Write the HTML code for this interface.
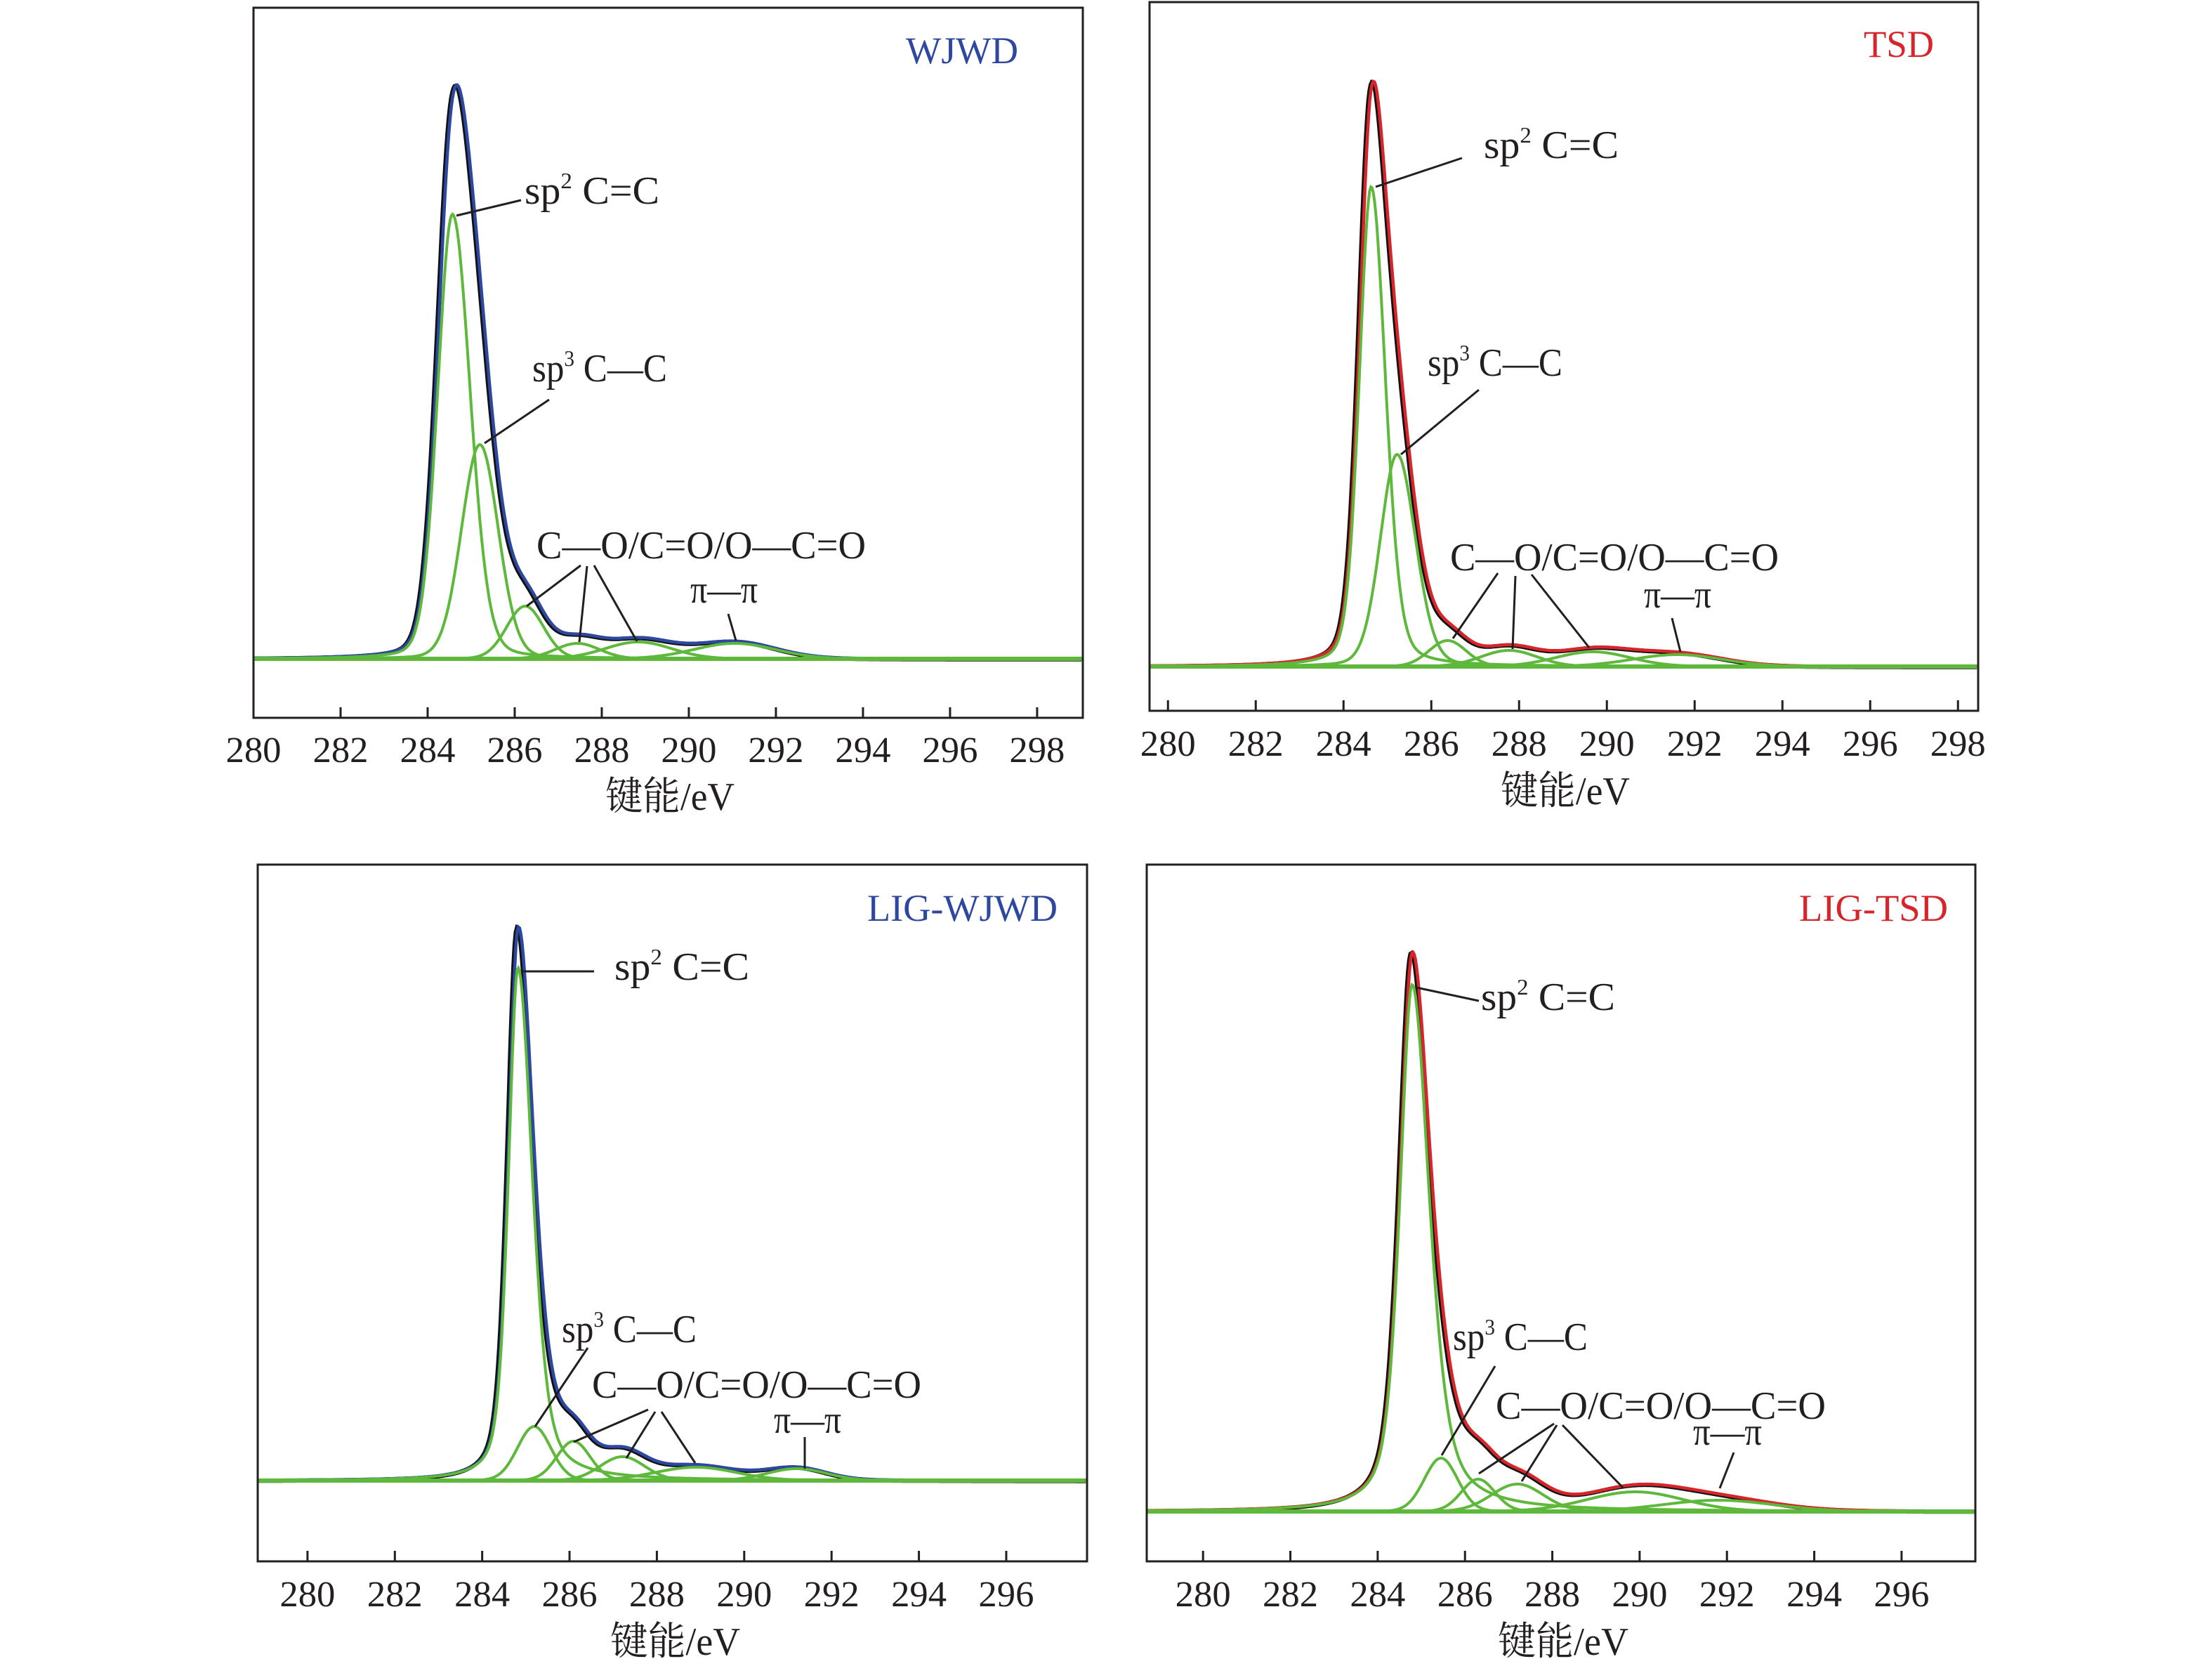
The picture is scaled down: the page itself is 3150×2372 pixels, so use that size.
<!DOCTYPE html>
<html><head><meta charset="utf-8">
<style>
html,body{margin:0;padding:0;background:#fff;}
svg{display:block;}
text{font-family:"Liberation Serif","Noto Serif CJK SC",serif;fill:#231f20;}
</style></head>
<body>
<svg id="fig" width="3150" height="2372" viewBox="0 0 3150 2372" xmlns="http://www.w3.org/2000/svg"></svg>
<script>
// ---- data (binding energies in eV, intensities in a.u.) ----
const tickValuesTop = [280,282,284,286,288,290,292,294,296,298];
const tickValuesBottom = [280,282,284,286,288,290,292,294,296];

const wjwdCenters = [284.57,285.20,286.24,287.44,288.84,291.05];
const wjwdHeights = [633,305,75,22,24,22];
const wjwdFwhm    = [0.80,1.00,1.00,1.20,1.80,2.20];
const wjwdEta     = [0.15,0.10,0.05,0.05,0.05,0.05];
const wjwdAsym    = [1.2,1.0,1.0,1.0,1.0,1.0];
const wjwdEnvPeak = 817;

const tsdCenters = [284.63,285.22,286.37,287.77,289.68,291.60];
const tsdHeights = [683,302,37,23,21,17];
const tsdFwhm    = [0.64,0.90,1.00,1.50,2.00,2.40];
const tsdEta     = [0.25,0.15,0.05,0.05,0.05,0.05];
const tsdAsym    = [1.2,1.1,1.0,1.0,1.0,1.0];
const tsdEnvPeak = 833;

const ligwCenters = [284.82,285.19,286.09,287.21,288.89,291.20];
const ligwHeights = [730,77,56,34,19,17];
const ligwFwhm    = [0.52,0.90,0.90,1.20,2.20,1.60];
const ligwEta     = [0.45,0.05,0.05,0.05,0.05,0.05];
const ligwAsym    = [1.5,1.0,1.0,1.0,1.0,1.0];
const ligwEnvPeak = 788;

const ligtCenters = [284.79,285.45,286.30,287.20,289.90,291.80];
const ligtHeights = [750,76,46,39,28,16];
const ligtFwhm    = [0.67,0.90,0.90,1.40,2.60,3.00];
const ligtEta     = [0.55,0.05,0.05,0.05,0.05,0.05];
const ligtAsym    = [1.4,1.0,1.0,1.0,1.0,1.0];
const ligtEnvPeak = 796;

// ---- layout ----
const NS = "http://www.w3.org/2000/svg";
const svg = document.getElementById('fig');
function mk(tag, attrs, parent){
  const e = document.createElementNS(NS, tag);
  for (const k in attrs) e.setAttribute(k, attrs[k]);
  (parent||svg).appendChild(e);
  return e;
}
const GREEN="#5db83b";

const panels = [
 {key:'wjwd', title:'WJWD', color:'#2e48a0', L:361,R:1542,T:11,B:1022,xmin:280,xmax:299.05,base:938,
  ticks:tickValuesTop, tickBase:1085, axis:{x:862,w:184,y:1153},
  titlePos:{x:1290,w:160,y:90},
  c:wjwdCenters,h:wjwdHeights,f:wjwdFwhm,eta:wjwdEta,asym:wjwdAsym,env:wjwdEnvPeak,
  labels:[{t:'sp2',x:747,y:290,w:192},{t:'sp3',x:758,y:543,w:192},{t:'co',x:764,y:795,w:469},{t:'pi',x:983,y:858,w:96}],
  leaders:[[742,285,650,307],[782,569,690,631],[827,805,750,863],[836,806,825,914],[846,805,907,913],[1037,874,1048,912]]},
 {key:'tsd', title:'TSD', color:'#d7262b', L:1637,R:2817,T:3,B:1012,xmin:279.58,xmax:298.46,base:949,
  ticks:tickValuesTop, tickBase:1076, axis:{x:2137,w:184,y:1145},
  titlePos:{x:2654,w:100,y:81},
  c:tsdCenters,h:tsdHeights,f:tsdFwhm,eta:tsdEta,asym:tsdAsym,env:tsdEnvPeak,
  labels:[{t:'sp2',x:2113,y:225,w:192},{t:'sp3',x:2033,y:535,w:192},{t:'co',x:2065,y:812,w:468},{t:'pi',x:2341,y:865,w:96}],
  leaders:[[2082,225,1959,266],[2106,555,1995,647],[2133,816,2069,909],[2158,820,2154,924],[2181,818,2263,922],[2381,880,2393,928]]},
 {key:'lig-wjwd', title:'LIG-WJWD', color:'#2e48a0', L:367,R:1548,T:1231,B:2223,xmin:278.86,xmax:297.85,base:2108,
  ticks:tickValuesBottom, tickBase:2287, axis:{x:869,w:185,y:2356},
  titlePos:{x:1235,w:271,y:1311},
  c:ligwCenters,h:ligwHeights,f:ligwFwhm,eta:ligwEta,asym:ligwAsym,env:ligwEnvPeak,
  labels:[{t:'sp2',x:875,y:1395,w:192},{t:'sp3',x:800,y:1911,w:192},{t:'co',x:843,y:1990,w:469},{t:'pi',x:1102,y:2040,w:96}],
  leaders:[[743,1383,846,1383],[837,1919,762,2031],[923,2007,817,2053],[933,2010,892,2076],[942,2010,990,2083],[1146,2046,1146,2091]]},
 {key:'lig-tsd', title:'LIG-TSD', color:'#d7262b', L:1633,R:2813,T:1231,B:2223,xmin:278.71,xmax:297.69,base:2152,
  ticks:tickValuesBottom, tickBase:2287, axis:{x:2133,w:186,y:2356},
  titlePos:{x:2562,w:212,y:1311},
  c:ligtCenters,h:ligtHeights,f:ligtFwhm,eta:ligtEta,asym:ligtAsym,env:ligtEnvPeak,
  labels:[{t:'sp2',x:2109,y:1438,w:191},{t:'sp3',x:2069,y:1922,w:192},{t:'co',x:2130,y:2020,w:470},{t:'pi',x:2411,y:2057,w:98}],
  leaders:[[2017,1406,2106,1425],[2129,1945,2053,2072],[2213,2027,2106,2098],[2217,2029,2167,2109],[2225,2029,2312,2119],[2469,2068,2449,2119]]}
];

function pv(x,c,h,w,eta,asym){
  const hw = x<c ? w/2 : w/2*asym;
  const d = (x-c)/hw;
  return h*(eta/(1+d*d) + (1-eta)*Math.exp(-Math.LN2*d*d));
}

panels.forEach(p=>{
  const g = mk('g',{});
  
  
  const xs = v => p.L + (v-p.xmin)/(p.xmax-p.xmin)*(p.R-p.L);
  const ys = v => p.base - v;
  const N = 700;
  const grid = [];
  for(let i=0;i<=N;i++) grid.push(p.xmin + (p.xmax-p.xmin)*i/N);

  const clipId = 'clip-'+p.key;
  const cp = mk('clipPath',{id:clipId},g);
  mk('rect',{x:p.L,y:p.T,width:p.R-p.L,height:p.B-p.T},cp);
  const plot = mk('g',{'clip-path':'url(#'+clipId+')'},g);

  const sums = grid.map(x=>p.c.reduce((s,c,i)=>s+pv(x,c,p.h[i],p.f[i],p.eta[i],p.asym[i]),0));
  const mx = Math.max(...sums);
  const k = p.env/mx;
  const envD = grid.map((x,i)=>(i?'L':'M')+xs(x).toFixed(1)+','+ys(sums[i]*k).toFixed(1)).join('');
  const raw = mk('path',{d:envD,fill:'none',stroke:'#111',"stroke-width":6,transform:'translate(-2,1)'},plot);
  
  
  const env = mk('path',{d:envD,fill:'none',stroke:p.color,"stroke-width":4.5},plot);
  
  

  p.c.forEach((c,j)=>{
    const d = grid.map((x,i)=>(i?'L':'M')+xs(x).toFixed(1)+','+ys(pv(x,c,p.h[j],p.f[j],p.eta[j],p.asym[j])).toFixed(1)).join('');
    const pe = mk('path',{d:d,fill:'none',stroke:GREEN,"stroke-width":4},plot);
    
    
  });
  const bl = mk('line',{x1:p.L,x2:p.R,y1:p.base,y2:p.base,stroke:GREEN,"stroke-width":6},plot);
  
  

  const fr = mk('rect',{x:p.L,y:p.T,width:p.R-p.L,height:p.B-p.T,fill:'none',stroke:'#231f20',"stroke-width":3},g);
  
  

  p.ticks.forEach(t=>{
    const x = xs(t);
    const tl = mk('line',{x1:x,x2:x,y1:p.B,y2:p.B-15,stroke:'#231f20',"stroke-width":3},g);
    
    
    const tt = mk('text',{x:x,y:p.tickBase,'text-anchor':'middle','font-size':52,textLength:79,lengthAdjust:'spacingAndGlyphs'},g);
    tt.textContent = t;
    
    
  });

  const ax = mk('text',{x:p.axis.x,y:p.axis.y,'font-size':56,textLength:p.axis.w,lengthAdjust:'spacingAndGlyphs'},g);
  ax.textContent = '键能/eV';
  
  

  const ti = mk('text',{x:p.titlePos.x,y:p.titlePos.y,'font-size':54,textLength:p.titlePos.w,lengthAdjust:'spacingAndGlyphs',style:'fill:'+p.color},g);
  ti.textContent = p.title;
  
  

  p.leaders.forEach((l,i)=>{
    const ln = mk('line',{x1:l[0],y1:l[1],x2:l[2],y2:l[3],stroke:'#231f20',"stroke-width":3},g);
    
    
  });

  p.labels.forEach(lb=>{
    const t = mk('text',{x:lb.x,y:lb.y,'font-size':56,textLength:lb.w,lengthAdjust:'spacingAndGlyphs'},g);
    if(lb.t==='sp2'||lb.t==='sp3'){
      const a = mk('tspan',{},t); a.textContent='sp';
      const s = mk('tspan',{'font-size':32,dy:-22},t); s.textContent = lb.t==='sp2'?'2':'3';
      const b = mk('tspan',{dy:22},t); b.textContent = lb.t==='sp2'?' C=C':' C—C';
    } else if(lb.t==='co'){
      t.textContent='C—O/C=O/O—C=O';
    } else {
      t.textContent='π—π';
    }
    
    
  });
});
</script>
</body></html>
